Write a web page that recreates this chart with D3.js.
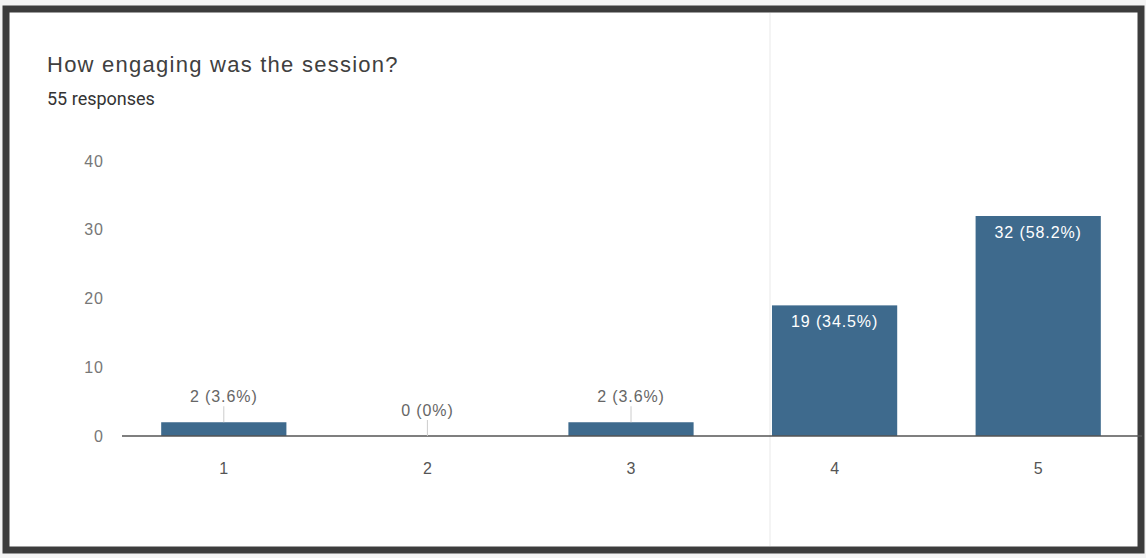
<!DOCTYPE html>
<html>
<head>
<meta charset="utf-8">
<script src="https://cdn.jsdelivr.net/npm/d3@7"></script>
<style>
  body { margin: 0; background: #f4f4f4; }
  svg { display: block; }
  text { font-family: "Liberation Sans", Arial, sans-serif; }
</style>
</head>
<body>
<div id="chart"></div>
<script>
// data
let categories = ['1', '2', '3', '4', '5'];
let counts = [2, 0, 2, 19, 32];
let labels = ['2 (3.6%)', '0 (0%)', '2 (3.6%)', '19 (34.5%)', '32 (58.2%)'];
let yTicks = [0, 10, 20, 30, 40];

let width = 1146;
let height = 558;
let barColor = '#3e6a8d';

let svg = d3.select('#chart')
  .append('svg')
  .attr('width', width)
  .attr('height', height);

// card with the dark scan frame
svg.append('rect')
  .attr('x', 6).attr('y', 9)
  .attr('width', 1135).attr('height', 541)
  .attr('fill', '#fff')
  .attr('stroke', '#3c3c3c')
  .attr('stroke-width', 7);

// faint fold line from the scan
svg.append('line')
  .attr('x1', 770).attr('x2', 770)
  .attr('y1', 13).attr('y2', 546)
  .attr('stroke', '#f0f0f0')
  .attr('stroke-width', 1.5);

svg.append('text')
  .attr('x', 47).attr('y', 72)
  .attr('fill', '#404040')
  .style('font-size', '22px')
  .style('letter-spacing', '1.25px')
  .text('How engaging was the session?');

svg.append('text')
  .attr('x', 47).attr('y', 105)
  .attr('fill', '#333')
  .style('font-family', 'Roboto, sans-serif')
  .style('font-size', '18px')
  .text('55 responses');

let x = d3.scaleBand()
  .domain(categories)
  .range([122, 1140])
  .paddingInner(0.385)
  .paddingOuter(0.1925);

let y = d3.scaleLinear()
  .domain([0, 40])
  .range([436, 161]);

// y tick labels
svg.append('g')
  .selectAll('text')
  .data(yTicks)
  .enter()
  .append('text')
  .attr('x', 104)
  .attr('y', function(d) { return y(d); })
  .attr('dy', '0.35em')
  .attr('text-anchor', 'end')
  .attr('fill', '#777')
  .style('font-size', '16px')
  .style('letter-spacing', '1px')
  .text(function(d) { return d; });

// bars
svg.append('g')
  .selectAll('rect')
  .data(counts)
  .enter()
  .append('rect')
  .attr('x', function(d, i) { return x(categories[i]); })
  .attr('y', function(d) { return y(d); })
  .attr('width', x.bandwidth())
  .attr('height', function(d) { return y(0) - y(d); })
  .attr('fill', barColor);

// baseline
svg.append('line')
  .attr('x1', 122).attr('x2', 1142)
  .attr('y1', y(0)).attr('y2', y(0))
  .attr('stroke', '#555')
  .attr('stroke-width', 1.5);

// x labels
svg.append('g')
  .selectAll('text')
  .data(categories)
  .enter()
  .append('text')
  .attr('x', function(d) { return x(d) + x.bandwidth() / 2; })
  .attr('y', 468)
  .attr('dy', '0.35em')
  .attr('text-anchor', 'middle')
  .attr('fill', '#555')
  .style('font-size', '16px')
  .text(function(d) { return d; });

// value labels: inside tall bars, above short ones with a leader line
counts.forEach(function(d, i) {
  let cx = x(categories[i]) + x.bandwidth() / 2;
  if (d > 10) {
    svg.append('text')
      .attr('x', cx)
      .attr('y', y(d) + 16)
      .attr('dy', '0.35em')
      .attr('text-anchor', 'middle')
      .attr('fill', '#fff')
      .style('font-size', '16px')
      .style('letter-spacing', '0.9px')
      .text(labels[i]);
  } else {
    let ly = y(d) - 26;
    svg.append('line')
      .attr('x1', cx).attr('x2', cx)
      .attr('y1', ly + 10).attr('y2', y(d))
      .attr('stroke', '#ccc')
      .attr('stroke-width', 1);
    svg.append('text')
      .attr('x', cx)
      .attr('y', ly)
      .attr('dy', '0.35em')
      .attr('text-anchor', 'middle')
      .attr('fill', '#666')
      .style('font-size', '16px')
      .style('letter-spacing', '0.9px')
      .text(labels[i]);
  }
});
</script>
</body>
</html>
